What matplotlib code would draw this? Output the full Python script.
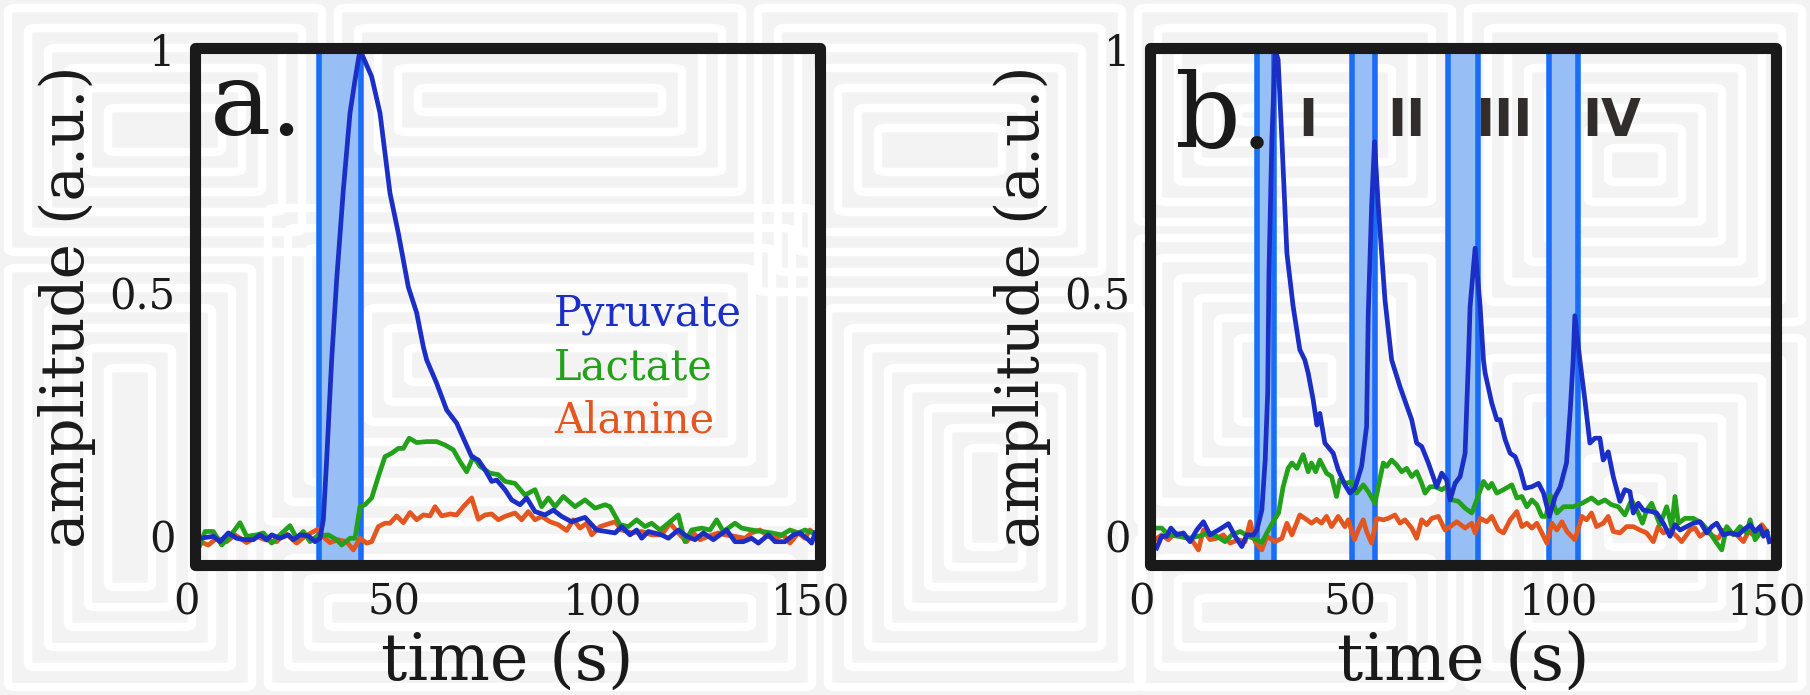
import matplotlib
matplotlib.use("Agg")
import matplotlib.pyplot as plt
import matplotlib.transforms as mtransforms
from matplotlib.patches import FancyBboxPatch, Rectangle

# ---- panel a data -------------------------------------------------------
a_pyr_t = [1.2, 4.4, 6.0, 8.0, 10.0, 12.0, 14.0, 15.6, 17.2, 18.4, 20.4, 22.4, 23.6, 25.2, 27.2,
           28.8, 30.0, 30.8, 31.6, 32.4, 32.8, 34.0, 35.6, 37.2, 38.4, 39.6, 42.4, 44.4, 46.8,
           48.8, 51.2, 53.2, 54.8, 55.6, 58.0, 60.4, 62.8, 64.4, 66.4, 68.0, 69.6, 71.2, 72.4,
           74.4, 76.0, 78.0, 79.6, 81.6, 84.0, 86.0, 88.0, 90.4, 93.6, 96.4, 100.8, 102.4, 104.4,
           106.0, 107.2, 108.8, 112.0, 113.6, 116.0, 118.0, 120.0, 122.0, 124.4, 127.6, 129.6,
           131.6, 133.6, 135.2, 137.6, 139.2, 141.6, 143.6, 145.2, 147.2, 148.0, 148.8]
a_pyr = [-0.005, -0.001, -0.012, 0.006, -0.005, -0.008, -0.008, 0.002, -0.008, 0.002, -0.005,
         0.002, -0.008, 0.002, 0.0, -0.012, -0.005, 0.033, 0.156, 0.294, 0.362, 0.527, 0.712,
         0.87, 0.938, 1.0, 0.945, 0.87, 0.705, 0.623, 0.512, 0.459, 0.389, 0.362, 0.314, 0.259,
         0.232, 0.201, 0.163, 0.156, 0.136, 0.112, 0.115, 0.095, 0.074, 0.064, 0.078, 0.05,
         0.043, 0.053, 0.04, 0.029, 0.038, 0.012, 0.006, 0.019, 0.002, 0.012, -0.005, 0.009,
         0.002, -0.005, 0.012, -0.001, -0.008, 0.006, -0.008, 0.012, -0.012, -0.012, -0.005,
         -0.015, 0.002, -0.012, -0.012, 0.002, 0.006, -0.008, -0.015, 0.006]

a_lac_t = [1.2, 2.4, 4.4, 6.4, 8.4, 10.8, 12.4, 14.8, 16.4, 18.4, 20.4, 22.8, 24.4, 26.0, 27.6,
           29.2, 32.0, 34.0, 35.2, 37.2, 38.4, 39.6, 40.8, 42.4, 44.0, 45.6, 47.2, 48.8, 50.0,
           51.4, 53.2, 55.6, 58.0, 60.0, 62.0, 63.6, 65.2, 66.8, 68.4, 70.8, 72.8, 74.4, 76.8,
           79.2, 81.6, 83.2, 84.8, 86.4, 88.4, 91.2, 93.6, 96.0, 98.4, 99.6, 102.0, 104.0, 106.0,
           108.0, 109.6, 111.6, 113.6, 116.0, 117.6, 119.2, 121.6, 123.6, 125.2, 126.8, 129.6,
           131.2, 133.6, 136.0, 138.4, 140.8, 142.8, 144.8, 146.4, 148.4]
a_lac = [-0.019, 0.009, 0.009, -0.019, -0.001, 0.027, -0.001, 0.002, 0.006, -0.015, 0.002,
         0.021, -0.005, 0.009, -0.012, -0.001, 0.002, -0.008, -0.019, -0.005, -0.005, 0.06,
         0.064, 0.078, 0.122, 0.163, 0.17, 0.18, 0.18, 0.201, 0.192, 0.194, 0.194, 0.187,
         0.177, 0.153, 0.132, 0.163, 0.143, 0.129, 0.126, 0.112, 0.108, 0.084, 0.095, 0.06,
         0.078, 0.06, 0.081, 0.06, 0.074, 0.057, 0.064, 0.06, 0.023, 0.019, 0.033, 0.019, 0.026,
         0.012, 0.026, 0.043, -0.012, 0.012, 0.016, 0.012, 0.033, 0.009, 0.026, 0.016, 0.012,
         0.009, 0.006, 0.002, 0.012, 0.006, 0.012, 0.006]

a_ala_t = [1.2, 3.2, 5.2, 7.6, 9.6, 12.4, 14.8, 16.8, 19.6, 21.6, 24.4, 26.4, 29.6, 31.2, 32.4,
           34.4, 36.4, 38.0, 39.6, 41.2, 42.4, 44.0, 45.6, 46.8, 48.4, 50.0, 51.6, 53.2, 54.8,
           56.4, 57.6, 59.2, 61.2, 62.8, 64.4, 66.4, 68.0, 69.6, 71.2, 72.8, 74.4, 76.8, 78.4,
           80.0, 81.6, 83.2, 85.2, 87.2, 89.2, 90.8, 92.4, 94.0, 95.2, 97.2, 100.8, 102.4, 104.8,
           107.2, 109.6, 112.0, 114.0, 116.0, 118.0, 119.6, 121.2, 123.2, 125.6, 127.2, 129.6,
           132.0, 133.6, 135.6, 137.6, 139.2, 141.2, 142.8, 144.8, 146.4, 147.6, 148.8]
a_ala = [-0.012, -0.019, -0.005, -0.012, 0.002, -0.014, -0.001, -0.008, -0.012, 0.006, -0.015,
         -0.001, 0.014, -0.005, -0.014, -0.008, -0.012, -0.029, -0.005, -0.015, -0.012, 0.019,
         0.026, 0.026, 0.041, 0.027, 0.048, 0.033, 0.043, 0.041, 0.06, 0.041, 0.045, 0.043,
         0.06, 0.078, 0.034, 0.043, 0.045, 0.033, 0.04, 0.047, 0.033, 0.05, 0.033, 0.04, 0.029,
         0.023, 0.011, 0.033, 0.016, 0.026, 0.002, 0.019, 0.029, 0.012, 0.006, 0.009, 0.002,
         0.002, 0.026, 0.006, -0.012, 0.006, -0.008, -0.001, 0.006, 0.002, -0.001, -0.005,
         0.006, 0.012, -0.001, -0.005, 0.002, -0.015, 0.006, -0.005, 0.012, 0.002]

a_spans = [(29.8, 39.8)]

# ---- panel b data -------------------------------------------------------
b_pyr_t = [1.6, 2.8, 4.0, 5.0, 6.4, 8.0, 9.6, 11.2, 12.8, 14.4, 16.4, 18.8, 20.4, 22.0, 23.2,
           24.8, 25.6, 26.8, 27.6, 28.2, 28.5, 29.2, 30.0, 30.7, 31.6, 32.8, 34.3, 35.9, 37.1,
           37.9, 39.1, 40.0, 40.7, 41.9, 43.9, 45.1, 46.7, 47.9, 49.1, 50.7, 51.9, 52.3, 53.1,
           53.8, 54.7, 56.3, 57.9, 59.9, 62.7, 63.9, 65.1, 66.7, 68.7, 69.9, 71.1, 71.9, 73.1,
           74.3, 75.5, 76.3, 76.7, 77.9, 79.1, 79.9, 80.3, 81.9, 83.1, 83.9, 85.1, 86.3, 87.5,
           88.7, 89.9, 91.5, 93.1, 94.3, 95.7, 97.1, 98.3, 99.8, 100.7, 101.4, 101.8, 103.0,
           104.2, 105.4, 106.6, 107.8, 108.6, 109.8, 111.0, 112.6, 113.8, 115.0, 115.8, 117.0,
           118.2, 120.2, 121.4, 123.0, 124.6, 125.8, 127.0, 128.6, 130.2, 131.8, 133.4, 134.6,
           135.8, 137.4, 139.0, 141.0, 142.2, 143.8, 145.0, 146.2, 147.0, 147.8, 148.4]
b_pyr = [-0.025, -0.001, -0.001, 0.016, 0.002, 0.006, -0.012, 0.012, 0.029, 0.002, 0.012,
         0.025, -0.001, -0.022, 0.002, 0.002, 0.012, 0.053, 0.156, 0.294, 0.54, 0.815, 1.0,
         0.98, 0.815, 0.582, 0.472, 0.383, 0.362, 0.335, 0.28, 0.228, 0.252, 0.191, 0.17,
         0.136, 0.105, 0.088, 0.098, 0.143, 0.225, 0.458, 0.678, 0.811, 0.678, 0.486, 0.362,
         0.307, 0.239, 0.191, 0.184, 0.15, 0.101, 0.129, 0.115, 0.074, 0.108, 0.122, 0.17,
         0.362, 0.472, 0.592, 0.472, 0.362, 0.335, 0.273, 0.239, 0.239, 0.198, 0.17, 0.163,
         0.136, 0.098, 0.101, 0.108, 0.088, 0.04, 0.081, 0.101, 0.15, 0.259, 0.362, 0.453,
         0.362, 0.28, 0.191, 0.201, 0.201, 0.156, 0.173, 0.122, 0.071, 0.095, 0.091, 0.047,
         0.067, 0.053, 0.05, 0.047, 0.026, -0.001, 0.023, 0.012, 0.019, 0.026, 0.029, 0.006,
         0.019, 0.026, 0.002, 0.006, 0.002, 0.012, 0.023, 0.009, 0.019, -0.001, 0.009, -0.012]

b_lac_t = [1.2, 2.8, 4.4, 6.8, 9.2, 11.6, 14.0, 16.0, 18.0, 19.6, 21.6, 23.6, 25.6, 26.8, 28.0,
           29.5, 30.8, 31.9, 33.1, 34.0, 35.2, 36.7, 37.9, 38.7, 39.7, 40.7, 42.3, 43.5, 44.7,
           45.5, 47.1, 48.3, 49.5, 51.1, 52.3, 53.9, 54.7, 55.9, 56.7, 57.9, 59.1, 60.3, 61.5,
           62.7, 63.9, 65.1, 65.9, 67.1, 68.3, 69.9, 71.1, 72.3, 73.9, 75.5, 77.1, 78.3, 79.9,
           81.1, 81.9, 83.1, 84.7, 86.7, 87.9, 89.1, 90.3, 91.5, 92.7, 93.9, 94.9, 95.9, 97.5,
           99.1, 101.4, 103.5, 105.8, 107.4, 109.0, 110.6, 112.2, 113.8, 115.4, 117.0, 118.0,
           119.0, 120.2, 122.2, 123.8, 125.0, 125.8, 126.6, 128.2, 130.2, 132.2, 134.2, 135.8,
           137.0, 138.2, 139.8, 141.4, 143.0, 143.8, 145.0, 146.2, 147.8]
b_lac = [0.016, 0.016, 0.002, -0.001, -0.005, -0.001, 0.006, -0.001, -0.012, 0.002, 0.009,
         -0.001, -0.008, -0.014, 0.006, 0.029, 0.047, 0.101, 0.139, 0.15, 0.139, 0.167, 0.132,
         0.15, 0.132, 0.156, 0.129, 0.122, 0.081, 0.115, 0.108, 0.112, 0.088, 0.105, 0.091,
         0.067, 0.101, 0.15, 0.143, 0.156, 0.146, 0.132, 0.139, 0.122, 0.132, 0.108, 0.088,
         0.101, 0.101, 0.095, 0.101, 0.074, 0.071, 0.057, 0.047, 0.074, 0.112, 0.098, 0.108,
         0.088, 0.095, 0.105, 0.078, 0.081, 0.06, 0.074, 0.064, 0.04, 0.04, 0.084, 0.047, 0.06,
         0.06, 0.067, 0.078, 0.067, 0.074, 0.064, 0.06, 0.043, 0.074, 0.047, 0.026, 0.053,
         0.067, 0.023, 0.06, 0.019, 0.081, 0.026, 0.036, 0.036, 0.026, 0.006, -0.015, -0.029,
         0.019, 0.002, 0.019, 0.006, 0.033, -0.008, 0.006, 0.009]

b_ala_t = [1.2, 2.8, 4.4, 6.0, 7.6, 10.0, 11.6, 12.8, 14.4, 16.0, 17.6, 19.2, 21.2, 22.8, 24.0,
           25.2, 26.8, 28.0, 30.0, 31.6, 32.8, 34.0, 35.9, 37.6, 38.7, 39.9, 41.1, 42.3, 43.5,
           45.1, 46.7, 47.5, 49.0, 49.9, 51.1, 51.9, 53.1, 54.3, 55.9, 57.1, 58.7, 59.9, 61.1,
           62.7, 63.9, 65.1, 66.3, 67.5, 69.1, 70.7, 71.9, 73.5, 75.5, 77.1, 77.9, 79.1, 80.7,
           81.9, 83.5, 84.7, 86.3, 87.9, 89.1, 90.3, 91.5, 92.7, 93.9, 95.1, 96.3, 97.5, 98.7,
           99.9, 101.8, 103.5, 104.6, 105.8, 107.0, 108.6, 109.8, 111.0, 112.6, 114.2, 115.8,
           117.4, 119.0, 120.6, 121.8, 123.0, 124.6, 126.2, 127.4, 129.4, 130.6, 131.8, 133.4,
           135.0, 136.2, 137.4, 139.0, 140.6, 142.2, 143.4, 145.0, 146.6, 147.8]
b_ala = [-0.008, 0.002, -0.008, 0.006, 0.002, -0.008, -0.029, 0.012, -0.008, -0.005, 0.002,
         -0.015, -0.008, -0.012, 0.029, -0.012, -0.029, -0.001, -0.012, -0.005, 0.026, 0.002,
         0.043, 0.033, 0.026, 0.034, 0.026, 0.04, 0.019, 0.04, 0.019, 0.033, -0.008, 0.012,
         0.033, 0.009, -0.015, 0.036, 0.033, 0.036, 0.043, 0.026, 0.033, 0.016, -0.005, 0.033,
         0.023, 0.036, 0.04, 0.012, 0.019, 0.029, 0.016, 0.026, 0.006, 0.036, 0.029, 0.04,
         0.012, 0.006, 0.033, 0.05, 0.019, 0.026, 0.016, 0.026, 0.006, -0.015, 0.026, 0.012,
         0.029, 0.009, -0.008, 0.04, 0.033, 0.047, 0.019, 0.026, 0.04, 0.009, 0.006, 0.019,
         0.019, 0.012, 0.006, -0.012, 0.019, 0.006, 0.012, -0.001, -0.012, 0.012, 0.016,
         -0.001, 0.009, -0.001, -0.005, 0.012, 0.006, 0.002, -0.012, 0.009, -0.001, 0.023,
         0.009]

b_spans = [(25.6, 29.8), (48.5, 53.9), (71.3, 78.5), (95.7, 102.6)]
b_marks = ["I", "II", "III", "IV"]
b_mark_x = [37.9, 61.5, 84.7, 110.6]

names = ["Pyruvate", "Lactate", "Alanine"]
colors = ["#1b2ec6", "#23a11b", "#e4561f"]

x_ticks = [0, 50, 100, 150]
y_ticks = [0, 0.5, 1]
y_ticklabels = ["0", "0.5", "1"]

W, H = 1810, 695
SERIF = "DejaVu Serif"


def px_box(x, y, w, h):
    # pixel box (from top-left) -> figure fraction
    return x / W, 1 - (y + h) / H, w / W, h / H


def draw_maze(fig):
    # faint square-spiral backdrop
    tiles = [(0, 0, 330, 260), (330, 0, 420, 200), (750, 0, 380, 300), (1130, 0, 330, 230),
             (1460, 0, 350, 330), (0, 260, 260, 435), (260, 200, 560, 330), (820, 300, 330, 395),
             (1130, 230, 330, 300), (1460, 330, 350, 365), (260, 530, 560, 165),
             (1130, 530, 330, 165)]
    step = 20
    for (x, y, w, h) in tiles:
        k = 0
        while True:
            ins = 8 + k * step
            if w - 2 * ins < 10 or h - 2 * ins < 10:
                break
            l, b, ww, hh = px_box(x + ins, y + ins, w - 2 * ins, h - 2 * ins)
            fig.patches.append(FancyBboxPatch(
                (l, b), ww, hh, boxstyle="round,pad=0,rounding_size=0.005",
                transform=fig.transFigure, fill=False, ec="white", lw=6, zorder=-5))
            k += 1


def style_axes(ax, fig):
    ax.set_xlim(0, 150)
    ax.set_ylim(-0.06, 1.005)
    ax.set_facecolor("none")
    for s in ax.spines.values():
        s.set_visible(False)
    ax.add_patch(Rectangle((0, 0), 1, 1, transform=ax.transAxes, fill=False,
                           ec="#1a1a1a", lw=8, joinstyle="round", clip_on=False, zorder=10))
    ax.set_xticks(x_ticks)
    ax.set_yticks(y_ticks)
    ax.set_yticklabels(y_ticklabels)
    ax.tick_params(length=0, labelsize=30, pad=14)
    ax.tick_params(axis="x", pad=12)
    for lab in ax.get_xticklabels() + ax.get_yticklabels():
        lab.set_family(SERIF)
        lab.set_color("#1a1a1a")
    # x tick labels sit a little left of their data positions in the original
    shift = mtransforms.ScaledTranslation(-0.09, 0, fig.dpi_scale_trans)
    for lab in ax.get_xticklabels():
        lab.set_transform(lab.get_transform() + shift)
    ax.set_xlabel("time (s)", family=SERIF, fontsize=47, color="#1a1a1a", labelpad=5)
    ax.set_ylabel("amplitude (a.u.)", family=SERIF, fontsize=43, color="#1a1a1a", labelpad=10)


def draw_spans(ax, spans):
    for lo, hi in spans:
        ax.axvspan(lo, hi, color="#97bff6", lw=0, zorder=1)
        ax.axvline(lo, color="#1a6ef6", lw=4, zorder=2)
        ax.axvline(hi, color="#1a6ef6", lw=4, zorder=2)


def main():
    fig = plt.figure(figsize=(W / 100, H / 100), dpi=100, facecolor="#f3f3f3")
    draw_maze(fig)

    ax_a = fig.add_axes(px_box(195, 47.5, 625, 517.5))
    ax_b = fig.add_axes(px_box(1150, 47.5, 626, 517.5))

    for ax in (ax_a, ax_b):
        style_axes(ax, fig)
        ax.set_zorder(2)

    draw_spans(ax_a, a_spans)
    draw_spans(ax_b, b_spans)

    # panel a
    ax_a.plot(a_ala_t, a_ala, color=colors[2], lw=3.4, zorder=3)
    ax_a.plot(a_lac_t, a_lac, color=colors[1], lw=3.4, zorder=4)
    ax_a.plot(a_pyr_t, a_pyr, color=colors[0], lw=3.4, zorder=5)
    ax_a.text(0.024, 0.831, "a.", transform=ax_a.transAxes, family=SERIF, fontsize=74,
              color="#1a1a1a", ha="left", va="baseline", zorder=11)
    for i, (name, c) in enumerate(zip(names, colors)):
        ax_a.text(0.574, 0.462 - i * 0.103, name, transform=ax_a.transAxes, family=SERIF,
                  fontsize=30, color=c, ha="left", va="baseline", zorder=11)

    # panel b
    ax_b.plot(b_ala_t, b_ala, color=colors[2], lw=3.4, zorder=3)
    ax_b.plot(b_lac_t, b_lac, color=colors[1], lw=3.4, zorder=4)
    ax_b.plot(b_pyr_t, b_pyr, color=colors[0], lw=3.4, zorder=5)
    ax_b.text(0.04, 0.806, "b.", transform=ax_b.transAxes, family=SERIF, fontsize=74,
              color="#1a1a1a", ha="left", va="baseline", zorder=11)
    for m, mx in zip(b_marks, b_mark_x):
        ax_b.text(mx, 0.852, m, family=["Liberation Sans Narrow", "DejaVu Sans"],
                  fontweight="bold", fontsize=37, color="#322d2d", ha="center",
                  va="center", zorder=11)

    fig.savefig("out.png", dpi=100, facecolor=fig.get_facecolor())


if __name__ == "__main__":
    main()
